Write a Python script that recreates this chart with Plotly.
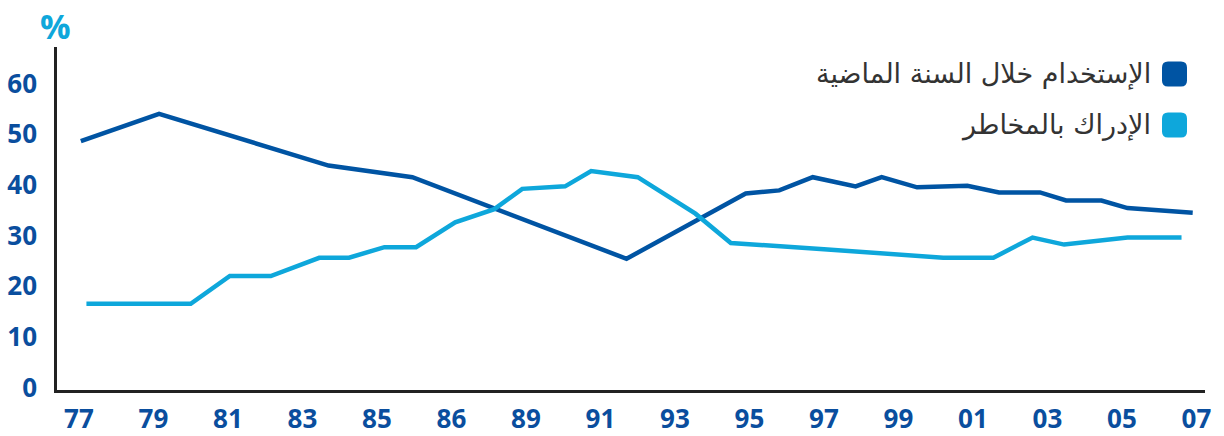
import plotly.graph_objects as go

# Tick labels (as printed on the chart)
tick_years = [1977, 1979, 1981, 1983, 1985, 1987, 1989, 1991, 1993, 1995, 1997, 1999, 2001, 2003, 2005, 2007]
tick_labels = ["77", "79", "81", "83", "85", "86", "89", "91", "93", "95", "97", "99", "01", "03", "05", "07"]
y_ticks = [0, 10, 20, 30, 40, 50, 60]

# Series 1: use during the past year (dark blue)
use_years = [1977.05, 1979.15, 1983.7, 1985.95, 1991.7, 1994.9, 1995.8, 1996.7, 1997.85,
             1998.55, 1999.5, 2000.85, 2001.7, 2002.8, 2003.5, 2004.45, 2005.15, 2006.9]
use_vals = [48.6, 54.0, 43.8, 41.5, 25.4, 38.3, 38.9, 41.5, 39.7,
            41.5, 39.5, 39.8, 38.5, 38.5, 36.9, 36.9, 35.4, 34.5]

# Series 2: risk perception (light blue)
risk_years = [1977.2, 1980.0, 1981.05, 1982.15, 1983.45, 1984.25, 1985.2, 1986.05, 1987.1,
              1988.15, 1988.9, 1990.05, 1990.75, 1992.0, 1993.55, 1994.5, 1997.0, 2000.2,
              2001.55, 2002.6, 2003.45, 2005.15, 2006.6]
risk_vals = [16.5, 16.5, 22.0, 22.0, 25.6, 25.6, 27.7, 27.7, 32.6,
             35.2, 39.2, 39.7, 42.7, 41.5, 34.3, 28.5, 27.3, 25.6,
             25.6, 29.6, 28.2, 29.6, 29.6]

names = ["الإستخدام خلال السنة الماضية", "الإدراك بالمخاطر"]
colors = ["#0054A3", "#0EA7DB"]

fig = go.Figure()
fig.add_trace(go.Scatter(x=use_years, y=use_vals, mode="lines", name=names[0],
                         line=dict(color=colors[0], width=4.5), showlegend=False))
fig.add_trace(go.Scatter(x=risk_years, y=risk_vals, mode="lines", name=names[1],
                         line=dict(color=colors[1], width=4.5), showlegend=False))

tick_font = dict(family="Open Sans", size=26, color="#0A4E9E", weight="bold")

fig.update_layout(
    width=1224, height=436,
    margin=dict(l=57, r=19, t=47, b=46),
    paper_bgcolor="white", plot_bgcolor="white",
    xaxis=dict(range=[1976.41, 2007.23], tickmode="array", tickvals=tick_years,
               ticktext=tick_labels, showgrid=False, zeroline=False,
               showline=True, linecolor="#222222", linewidth=2.5, automargin=False,
               ticks="", tickfont=tick_font, ticklabelstandoff=4),
    yaxis=dict(range=[-0.5, 67.2], tickmode="array", tickvals=y_ticks, automargin=False,
               showgrid=False, zeroline=False, showline=True, linecolor="#222222",
               linewidth=2.5, ticks="", tickfont=tick_font, ticklabelstandoff=12),
    font=dict(family="Open Sans"),
)

fig.add_annotation(xref="paper", yref="paper", x=-0.0, y=1.0, xshift=-2, yshift=21,
                   text="<b>%</b>", showarrow=False, xanchor="center", yanchor="middle",
                   font=dict(family="Open Sans", size=34, color=colors[1]))

# Legend (RTL: swatch on the right of the text)
legend_y = [74, 125]
for name, col, yy in zip(names, colors, legend_y):
    yp = 1 - (yy - 47) / (436 - 47 - 46)
    fig.add_annotation(xref="paper", yref="paper", x=(1153 - 57) / (1224 - 76), y=yp,
                       text=name, showarrow=False, xanchor="right", yanchor="middle",
                       font=dict(family="DejaVu Sans", size=27, color="#333333"))
    x0 = 1162; x1 = 1187; y0 = yy - 12.5; y1 = yy + 12.5; r = 6
    def px(v): return (v - 57) / (1224 - 76)
    def py(v): return 1 - (v - 47) / (436 - 93)
    path = (f"M {px(x0 + r)},{py(y0)} L {px(x1 - r)},{py(y0)} "
            f"Q {px(x1)},{py(y0)} {px(x1)},{py(y0 + r)} L {px(x1)},{py(y1 - r)} "
            f"Q {px(x1)},{py(y1)} {px(x1 - r)},{py(y1)} L {px(x0 + r)},{py(y1)} "
            f"Q {px(x0)},{py(y1)} {px(x0)},{py(y1 - r)} L {px(x0)},{py(y0 + r)} "
            f"Q {px(x0)},{py(y0)} {px(x0 + r)},{py(y0)} Z")
    fig.add_shape(type="path", xref="paper", yref="paper", path=path,
                  fillcolor=col, line=dict(width=0))

fig.write_html("out.html")
